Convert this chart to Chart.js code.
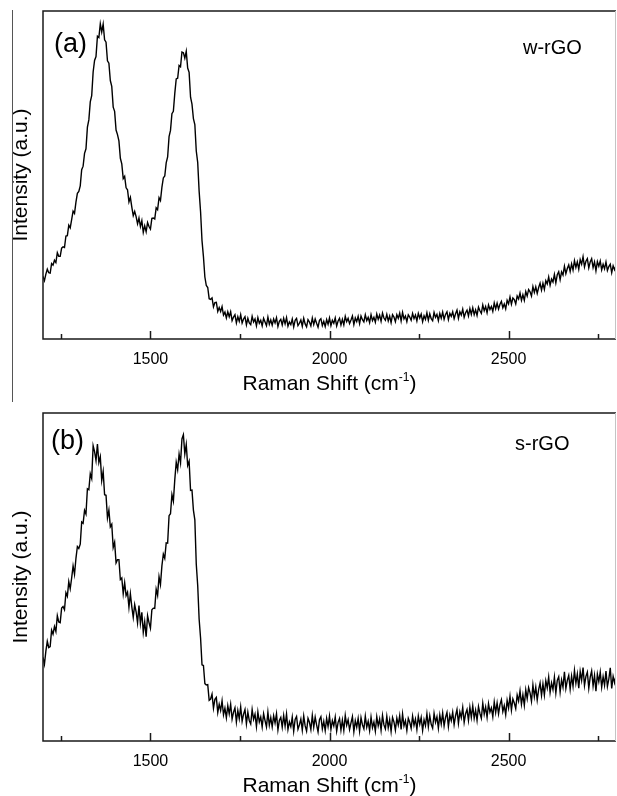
<!DOCTYPE html>
<html>
<head>
<meta charset="utf-8">
<script src="https://cdn.jsdelivr.net/npm/chart.js@4.4.1/dist/chart.umd.min.js"></script>
<style>
  html, body { margin: 0; padding: 0; background: #fff; }
  #wrap { position: relative; width: 617px; height: 796px; }
  canvas { position: absolute; left: 0; }
  #chartA { top: 0; }
  #chartB { top: 402px; }
</style>
</head>
<body>
<div id="wrap">
  <canvas id="chartA" width="617" height="402"></canvas>
  <canvas id="chartB" width="617" height="394"></canvas>
</div>
<script>
// Raman shift grid (cm-1), one row = 40 cm-1
const shift = [
  1200,1204,1208,1212,1216,1220,1224,1228,1232,1236,
  1240,1244,1248,1252,1256,1260,1264,1268,1272,1276,
  1280,1284,1288,1292,1296,1300,1304,1308,1312,1316,
  1320,1324,1328,1332,1336,1340,1344,1348,1352,1356,
  1360,1364,1368,1372,1376,1380,1384,1388,1392,1396,
  1400,1404,1408,1412,1416,1420,1424,1428,1432,1436,
  1440,1444,1448,1452,1456,1460,1464,1468,1472,1476,
  1480,1484,1488,1492,1496,1500,1504,1508,1512,1516,
  1520,1524,1528,1532,1536,1540,1544,1548,1552,1556,
  1560,1564,1568,1572,1576,1580,1584,1588,1592,1596,
  1600,1604,1608,1612,1616,1620,1624,1628,1632,1636,
  1640,1644,1648,1652,1656,1660,1664,1668,1672,1676,
  1680,1684,1688,1692,1696,1700,1704,1708,1712,1716,
  1720,1724,1728,1732,1736,1740,1744,1748,1752,1756,
  1760,1764,1768,1772,1776,1780,1784,1788,1792,1796,
  1800,1804,1808,1812,1816,1820,1824,1828,1832,1836,
  1840,1844,1848,1852,1856,1860,1864,1868,1872,1876,
  1880,1884,1888,1892,1896,1900,1904,1908,1912,1916,
  1920,1924,1928,1932,1936,1940,1944,1948,1952,1956,
  1960,1964,1968,1972,1976,1980,1984,1988,1992,1996,
  2000,2004,2008,2012,2016,2020,2024,2028,2032,2036,
  2040,2044,2048,2052,2056,2060,2064,2068,2072,2076,
  2080,2084,2088,2092,2096,2100,2104,2108,2112,2116,
  2120,2124,2128,2132,2136,2140,2144,2148,2152,2156,
  2160,2164,2168,2172,2176,2180,2184,2188,2192,2196,
  2200,2204,2208,2212,2216,2220,2224,2228,2232,2236,
  2240,2244,2248,2252,2256,2260,2264,2268,2272,2276,
  2280,2284,2288,2292,2296,2300,2304,2308,2312,2316,
  2320,2324,2328,2332,2336,2340,2344,2348,2352,2356,
  2360,2364,2368,2372,2376,2380,2384,2388,2392,2396,
  2400,2404,2408,2412,2416,2420,2424,2428,2432,2436,
  2440,2444,2448,2452,2456,2460,2464,2468,2472,2476,
  2480,2484,2488,2492,2496,2500,2504,2508,2512,2516,
  2520,2524,2528,2532,2536,2540,2544,2548,2552,2556,
  2560,2564,2568,2572,2576,2580,2584,2588,2592,2596,
  2600,2604,2608,2612,2616,2620,2624,2628,2632,2636,
  2640,2644,2648,2652,2656,2660,2664,2668,2672,2676,
  2680,2684,2688,2692,2696,2700,2704,2708,2712,2716,
  2720,2724,2728,2732,2736,2740,2744,2748,2752,2756,
  2760,2764,2768,2772,2776,2780,2784,2788,2792,2796,
  2800
];

// (a) w-rGO intensity, arbitrary units (0 = axis, 100 = top of frame)
const wrgo = [
  19.1,17.8,19.8,21.3,20.2,20.1,23.0,22.5,24.0,23.3,
  26.3,25.2,25.2,27.7,28.1,27.9,31.4,31.5,34.7,33.9,
  36.4,39.0,38.3,41.7,44.4,45.0,46.7,51.6,52.7,56.6,
  58.0,64.6,66.8,72.3,74.2,81.4,84.9,86.1,92.3,91.9,
  96.1,93.6,96.0,91.2,90.5,84.8,84.1,78.8,77.0,70.7,
  69.4,63.7,62.3,60.4,55.1,53.4,48.9,49.6,46.1,45.5,
  41.8,43.2,40.2,37.6,38.9,37.3,35.1,36.9,34.3,36.1,
  32.5,34.5,32.7,35.5,34.3,33.5,36.8,36.9,36.6,40.0,
  39.4,43.1,42.2,46.2,49.1,49.7,53.7,55.5,61.7,63.6,
  68.7,69.4,74.9,79.3,79.5,83.4,83.0,87.5,87.3,85.6,
  87.7,82.6,81.3,73.7,71.6,67.2,65.4,57.3,53.8,45.0,
  38.8,30.0,25.1,18.9,16.3,15.7,12.3,12.1,12.5,9.8,
  11.1,11.2,8.4,9.6,8.4,9.9,7.3,8.2,6.4,8.3,
  6.8,8.3,5.6,6.7,7.4,4.9,6.8,5.4,7.4,4.9,
  6.1,6.8,4.3,6.3,4.9,4.4,6.9,5.2,6.1,4.0,
  6.5,4.8,5.7,4.0,6.3,5.2,4.1,6.7,4.5,5.8,
  4.2,6.1,4.9,6.5,3.8,5.4,6.0,4.3,6.3,4.6,
  6.5,3.9,5.2,4.4,6.1,3.7,5.7,6.3,4.1,4.8,
  5.8,3.9,6.3,4.6,3.7,5.9,5.2,4.0,6.4,4.4,
  6.1,4.8,3.6,5.7,6.2,4.1,5.4,3.8,5.9,4.5,
  6.4,4.1,5.7,4.8,6.4,4.0,5.5,6.3,4.3,6.0,
  4.3,6.9,5.3,6.3,4.7,5.8,7.0,4.4,6.4,5.3,
  6.9,4.7,7.0,5.9,5.2,7.4,5.6,6.6,5.0,7.4,
  5.6,6.6,5.1,7.6,6.0,7.3,5.4,7.9,6.4,5.7,
  7.5,5.5,7.0,5.0,7.4,6.7,5.3,7.4,6.3,7.9,
  5.5,8.1,6.1,7.0,5.3,7.4,6.7,5.7,7.8,6.2,
  7.3,5.5,7.8,6.4,7.6,5.3,7.1,6.0,8.0,5.7,
  7.7,6.2,5.6,8.1,6.6,7.5,5.6,7.8,6.3,8.2,
  6.0,7.5,8.3,5.9,7.8,6.9,8.3,6.2,7.7,8.8,
  6.3,8.3,7.3,9.1,6.6,8.0,8.8,7.0,9.3,7.5,
  9.5,7.4,8.9,7.2,9.7,8.6,7.8,10.4,8.6,9.9,
  8.0,10.4,9.0,9.9,8.4,11.0,9.2,10.9,9.1,10.6,
  11.5,9.5,10.7,9.2,11.8,10.7,12.8,10.6,12.5,12.0,
  10.7,13.1,12.2,14.0,11.8,13.5,11.8,14.5,13.1,15.1,
  14.4,13.1,16.0,14.2,15.9,13.9,15.7,17.0,14.9,17.0,
  15.1,17.8,16.8,18.9,16.4,18.3,17.4,19.7,17.1,19.6,
  20.5,18.1,20.5,19.5,22.2,19.9,21.5,22.6,20.6,22.9,
  21.0,23.9,21.8,23.5,21.3,24.2,22.8,25.1,22.0,23.7,
  24.5,21.7,23.5,24.5,21.8,23.5,20.8,23.6,22.2,23.8,
  21.1,22.8,21.4,23.5,20.9,22.1,22.8,20.2,22.3,21.1,
  22.3
];

// (b) s-rGO intensity, arbitrary units (0 = axis, 100 = top of frame)
const srgo = [
  25.5,23.4,27.4,30.4,28.5,28.8,33.8,32.6,34.9,33.4,
  38.2,36.3,36.1,40.5,41.0,40.0,45.2,44.1,48.6,46.4,
  49.7,53.4,50.8,55.7,59.3,58.7,60.0,66.8,66.4,70.3,
  69.2,76.9,76.6,81.5,80.0,90.0,88.2,85.5,90.5,84.9,
  86.7,79.4,82.2,75.1,74.9,68.0,70.4,65.3,66.1,59.0,
  60.6,54.3,55.3,55.3,49.2,49.7,44.9,48.3,44.3,45.4,
  40.8,44.9,40.9,37.7,41.6,39.4,36.0,41.3,35.8,39.2,
  33.1,36.4,31.8,38.2,36.1,34.4,40.0,40.5,40.4,46.3,
  44.4,50.1,47.7,53.4,57.0,55.7,60.4,60.3,68.7,69.3,
  75.1,73.1,79.7,85.0,82.7,87.5,84.8,92.1,93.4,87.5,
  90.4,84.0,85.3,76.4,76.5,70.4,67.4,53.9,47.4,37.1,
  31.4,23.2,23.0,17.5,17.1,17.2,12.4,12.8,14.3,10.0,
  12.7,13.3,8.7,11.2,9.3,12.3,8.0,10.0,7.1,10.8,
  8.3,11.2,6.7,8.8,10.1,5.8,9.3,6.8,10.4,6.0,
  8.2,9.6,5.2,8.8,6.2,5.2,9.6,6.6,8.2,4.4,
  8.9,5.8,7.3,4.3,8.3,6.2,4.3,8.8,4.8,7.1,
  4.3,7.7,5.5,8.3,3.4,6.3,7.2,4.2,7.8,4.6,
  8.2,3.5,5.8,4.4,7.3,3.0,6.6,7.5,3.6,4.9,
  6.7,3.3,7.6,4.6,3.0,6.9,5.7,3.5,7.8,4.2,
  7.3,4.9,2.8,6.5,7.4,3.7,6.0,3.2,6.9,4.4,
  7.6,3.5,6.2,4.6,7.3,3.0,5.7,6.9,3.3,6.4,
  3.2,7.8,4.8,6.5,3.5,5.5,7.4,2.8,6.2,4.2,
  6.9,3.0,7.1,4.9,3.7,7.6,4.2,6.0,3.2,7.3,
  4.1,5.8,3.0,7.4,4.6,6.7,3.3,7.8,4.9,3.7,
  7.5,4.0,6.5,2.9,7.2,5.8,3.3,7.0,4.9,7.7,
  3.5,8.2,4.6,6.2,3.2,6.9,5.7,3.9,7.6,4.8,
  6.7,3.5,7.6,5.1,7.2,3.2,6.5,4.7,8.3,4.3,
  7.7,5.1,3.9,8.4,5.7,7.4,3.9,7.9,5.2,8.5,
  4.6,7.2,8.7,4.4,7.9,6.2,8.8,5.0,7.7,9.6,
  5.4,8.9,7.1,10.2,5.7,8.3,9.6,6.3,10.3,7.2,
  10.7,6.9,9.4,6.3,10.5,8.4,6.9,11.5,8.2,10.4,
  7.2,11.4,8.8,10.1,7.4,11.9,8.7,11.6,8.3,11.1,
  12.6,9.0,10.8,8.0,12.4,10.1,13.6,9.4,12.8,11.6,
  9.9,14.0,12.2,15.3,11.2,14.1,10.9,15.6,12.9,16.3,
  14.7,12.1,17.1,13.5,16.4,12.5,15.7,17.7,13.9,17.4,
  14.0,18.4,16.2,19.5,14.8,17.7,15.7,19.5,14.6,18.5,
  19.6,14.9,18.6,16.4,21.1,16.0,18.5,20.0,15.8,19.8,
  16.7,21.5,17.6,20.4,16.1,21.2,18.5,22.4,16.9,19.7,
  21.0,16.1,19.5,21.4,16.8,20.0,15.2,20.4,18.1,21.0,
  16.4,19.6,17.0,21.3,16.6,18.9,22.3,16.0,19.7,17.8,
  19.9
];

const FONT = '"Liberation Sans", Arial, Helvetica, sans-serif';

// frame, inward ticks, x title with superscript, panel labels
const frameDeco = {
  id: 'frameDeco',
  afterDraw(chart, args, opts) {
    const { ctx, chartArea: a, scales: { x } } = chart;
    ctx.save();

    ctx.strokeStyle = '#1a1a1a';
    ctx.lineWidth = 1.5;
    ctx.beginPath();
    ctx.moveTo(a.right, a.top);
    ctx.lineTo(a.left, a.top);
    ctx.lineTo(a.left, a.bottom);
    ctx.lineTo(a.right, a.bottom);
    ctx.stroke();

    ctx.strokeStyle = '#c4c4c4';
    ctx.lineWidth = 1;
    ctx.beginPath();
    ctx.moveTo(a.right - 0.5, a.top);
    ctx.lineTo(a.right - 0.5, a.bottom);
    ctx.stroke();

    ctx.strokeStyle = '#1a1a1a';
    ctx.lineWidth = 1.5;
    x.ticks.forEach(t => {
      const px = Math.round(x.getPixelForValue(t.value)) + 0.5;
      const len = t.value % 500 === 0 ? 8 : 5;
      ctx.beginPath();
      ctx.moveTo(px, a.bottom);
      ctx.lineTo(px, a.bottom - len);
      ctx.stroke();
    });

    // x axis title: Raman Shift (cm-1)
    ctx.fillStyle = '#000';
    ctx.textBaseline = 'alphabetic';
    ctx.textAlign = 'left';
    const main = '21px ' + FONT, sup = '12px ' + FONT;
    ctx.font = main;
    const w1 = ctx.measureText('Raman Shift (cm').width;
    const w3 = ctx.measureText(')').width;
    ctx.font = sup;
    const w2 = ctx.measureText('-1').width;
    const tx = (a.left + a.right) / 2 - (w1 + w2 + w3) / 2;
    const ty = a.bottom + 51;
    ctx.font = main;
    ctx.fillText('Raman Shift (cm', tx, ty);
    ctx.font = sup;
    ctx.fillText('-1', tx + w1, ty - 9);
    ctx.font = main;
    ctx.fillText(')', tx + w1 + w2, ty);

    // panel tag and sample name
    ctx.textBaseline = 'middle';
    ctx.font = '27px ' + FONT;
    ctx.fillText(opts.tag, opts.tagX, a.top + opts.tagDy);
    ctx.font = '20px ' + FONT;
    ctx.fillText(opts.name, opts.nameX, a.top + opts.nameDy);

    if (opts.sideRule) {
      ctx.strokeStyle = '#555';
      ctx.lineWidth = 1;
      ctx.beginPath();
      ctx.moveTo(12.5, 10);
      ctx.lineTo(12.5, chart.height);
      ctx.stroke();
    }
    ctx.restore();
  }
};

function makeChart(id, values, axisHeight, deco) {
  const pts = shift.map((s, i) => ({ x: s, y: values[i] }));
  return new Chart(document.getElementById(id), {
    type: 'line',
    data: {
      datasets: [{
        data: pts,
        borderColor: '#000',
        borderWidth: 1.4,
        pointRadius: 0,
        fill: false,
        tension: 0
      }]
    },
    options: {
      responsive: false,
      animation: false,
      events: [],
      layout: { padding: { top: 11, right: 1, left: 0, bottom: 0 } },
      plugins: {
        legend: { display: false },
        tooltip: { enabled: false },
        frameDeco: deco
      },
      scales: {
        x: {
          type: 'linear',
          min: 1200,
          max: 2800,
          grid: { display: false, drawTicks: false },
          border: { display: false },
          ticks: {
            stepSize: 250,
            includeBounds: false,
            autoSkip: false,
            maxRotation: 0,
            padding: 11,
            color: '#000',
            font: { family: FONT, size: 16 },
            callback: v => (v % 500 === 0 ? String(v) : '')
          },
          afterFit: s => { s.height = axisHeight; }
        },
        y: {
          min: 0,
          max: 100,
          grid: { display: false, drawTicks: false },
          border: { display: false },
          ticks: { display: false },
          title: {
            display: true,
            text: 'Intensity (a.u.)',
            color: '#000',
            font: { family: FONT, size: 21 },
            padding: { top: 9, bottom: 0 }
          },
          afterFit: s => { s.width = 43; }
        }
      }
    },
    plugins: [frameDeco]
  });
}

makeChart('chartA', wrgo, 63, { tag: '(a)', tagX: 54, tagDy: 34, name: 'w-rGO', nameX: 523, nameDy: 37, sideRule: true });
makeChart('chartB', srgo, 55, { tag: '(b)', tagX: 51, tagDy: 29, name: 's-rGO', nameX: 515, nameDy: 31, sideRule: false });
</script>
</body>
</html>
